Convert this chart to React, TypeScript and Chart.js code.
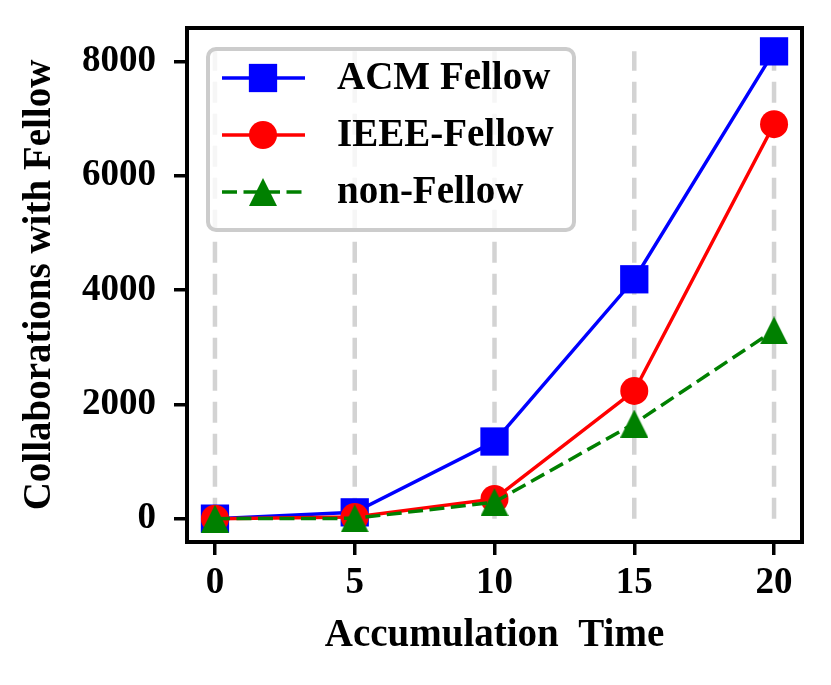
import React, { useEffect, useRef } from "react";
import { Chart, registerables } from "chart.js";
import { drawPoint } from "chart.js/helpers";

Chart.register(...registerables);

const times = [0, 5, 10, 15, 20];
const acmFellow = [0, 110, 1350, 4190, 8180];
const ieeeFellow = [0, 30, 345, 2235, 6905];
const nonFellow = [0, 5, 290, 1665, 3295];
const seriesNames = ["ACM Fellow", "IEEE-Fellow", "non-Fellow"];
const xTicks = [0, 5, 10, 15, 20];
const yTicks = [0, 2000, 4000, 6000, 8000];

// matplotlib style "^" marker: centered on its bounding box
function makeTriangle(color: string, size: number) {
  const c = document.createElement("canvas");
  c.width = size;
  c.height = size;
  const g = c.getContext("2d")!;
  g.fillStyle = color;
  g.beginPath();
  g.moveTo(size / 2, 0);
  g.lineTo(size, size);
  g.lineTo(0, size);
  g.closePath();
  g.fill();
  return c;
}

const dropLines = {
  id: "dropLines",
  beforeDatasetsDraw(chart: any) {
    const { ctx, scales } = chart;
    const y0 = scales.y.getPixelForValue(0);
    const y1 = scales.y.getPixelForValue(Math.max(...acmFellow));
    ctx.save();
    ctx.strokeStyle = "#d3d3d3";
    ctx.lineWidth = 4.5;
    ctx.setLineDash([21, 11]);
    xTicks.forEach((t) => {
      const x = scales.x.getPixelForValue(t);
      ctx.beginPath();
      ctx.moveTo(x, y0);
      ctx.lineTo(x, y1);
      ctx.stroke();
    });
    ctx.restore();
  },
};

const frameAndLegend = {
  id: "frameAndLegend",
  afterDatasetsDraw(chart: any) {
    const { ctx, chartArea } = chart;
    ctx.save();
    ctx.strokeStyle = "#000";
    ctx.lineWidth = 4;
    ctx.strokeRect(chartArea.left, chartArea.top, chartArea.right - chartArea.left, chartArea.bottom - chartArea.top);

    const x0 = chartArea.left + 21;
    const y0 = chartArea.top + 21;
    const w = 366;
    const h = 181;
    ctx.beginPath();
    ctx.roundRect(x0, y0, w, h, 8);
    ctx.fillStyle = "rgba(255,255,255,0.8)";
    ctx.fill();
    ctx.strokeStyle = "#cccccc";
    ctx.lineWidth = 4;
    ctx.stroke();

    chart.data.datasets.forEach((ds: any, i: number) => {
      const cy = y0 + 29 + i * 57;
      ctx.strokeStyle = ds.borderColor;
      ctx.lineWidth = ds.borderWidth;
      ctx.setLineDash(ds.borderDash || []);
      ctx.beginPath();
      ctx.moveTo(x0 + 14, cy);
      ctx.lineTo(x0 + 97, cy);
      ctx.stroke();
      ctx.setLineDash([]);
      ctx.fillStyle = ds.backgroundColor;
      drawPoint(ctx, { pointStyle: ds.pointStyle, radius: ds.pointRadius, rotation: 0, borderWidth: 0 }, x0 + 55, cy);
      ctx.fillStyle = "#000";
      ctx.font = "bold 39px 'Liberation Serif', 'Times New Roman', serif";
      ctx.textBaseline = "middle";
      ctx.textAlign = "left";
      ctx.fillText(ds.label, x0 + 129, cy + 1);
    });
    ctx.restore();
  },
};

export default function App() {
  const canvasRef = useRef<HTMLCanvasElement | null>(null);

  useEffect(() => {
    if (!canvasRef.current) return;
    Chart.defaults.font.family = "'Liberation Serif', 'Times New Roman', serif";
    const peak = Math.max(...acmFellow, ...ieeeFellow, ...nonFellow);
    const tri = makeTriangle("#008000", 28);

    const chart = new Chart(canvasRef.current, {
      type: "line",
      data: {
        datasets: [
          {
            label: seriesNames[0],
            data: times.map((t, i) => ({ x: t, y: acmFellow[i] })),
            borderColor: "#0000ff",
            backgroundColor: "#0000ff",
            borderWidth: 3.5,
            pointStyle: "rect",
            pointRadius: 20,
            pointBorderWidth: 0,
            order: 3,
          },
          {
            label: seriesNames[1],
            data: times.map((t, i) => ({ x: t, y: ieeeFellow[i] })),
            borderColor: "#ff0000",
            backgroundColor: "#ff0000",
            borderWidth: 3.5,
            pointStyle: "circle",
            pointRadius: 14,
            pointBorderWidth: 0,
            order: 2,
          },
          {
            label: seriesNames[2],
            data: times.map((t, i) => ({ x: t, y: nonFellow[i] })),
            borderColor: "#008000",
            backgroundColor: "#008000",
            borderWidth: 3.5,
            borderDash: [15, 6.5],
            pointStyle: tri,
            pointRadius: 14,
            pointBorderWidth: 0,
            order: 1,
          },
        ],
      } as any,
      options: {
        animation: false,
        responsive: false,
        clip: false as any,
        layout: { padding: { top: 28, right: 29, left: 0, bottom: 0 } },
        plugins: { legend: { display: false }, tooltip: { enabled: false } },
        scales: {
          x: {
            type: "linear",
            min: -1,
            max: 21,
            afterBuildTicks: (s: any) => {
              s.ticks = xTicks.map((v) => ({ value: v }));
            },
            afterFit: (s: any) => {
              s.height = 143;
              s.paddingLeft = 0;
              s.paddingRight = 0;
            },
            grid: { drawOnChartArea: false, drawTicks: true, tickLength: 13, tickColor: "#000", lineWidth: 3.5 },
            border: { display: false },
            ticks: {
              color: "#000",
              font: { size: 37, weight: "bold" },
              padding: 6,
              maxRotation: 0,
              autoSkip: false,
              callback: (v: any) => String(v),
            },
            title: {
              display: true,
              text: "Accumulation  Time",
              color: "#000",
              font: { size: 39, weight: "bold" },
              padding: { top: 0, bottom: 26 },
            },
          },
          y: {
            type: "linear",
            min: -0.05 * peak,
            max: 1.05 * peak,
            afterBuildTicks: (s: any) => {
              s.ticks = yTicks.map((v) => ({ value: v }));
            },
            afterFit: (s: any) => {
              s.width = 187;
              s.paddingTop = 0;
              s.paddingBottom = 0;
            },
            grid: { drawOnChartArea: false, drawTicks: true, tickLength: 13, tickColor: "#000", lineWidth: 3.5 },
            border: { display: false },
            ticks: {
              color: "#000",
              font: { size: 37, weight: "bold" },
              padding: 18,
              autoSkip: false,
              callback: (v: any) => String(v),
            },
            title: {
              display: true,
              text: "Collaborations with Fellow",
              color: "#000",
              font: { size: 39, weight: "bold" },
              padding: { top: 17, bottom: 0 },
            },
          },
        },
      } as any,
      plugins: [dropLines, frameAndLegend],
    });

    return () => chart.destroy();
  }, []);

  return (
    <div style={{ position: "absolute", left: 0, top: 0, width: 831, height: 685, background: "#fff" }}>
      <canvas ref={canvasRef} width={831} height={685} />
    </div>
  );
}
